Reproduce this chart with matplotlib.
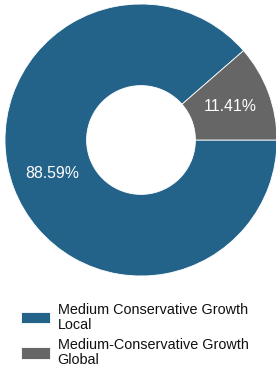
import matplotlib.pyplot as plt

# Donut chart: portfolio split
labels = ["Medium Conservative Growth\nLocal", "Medium-Conservative Growth\nGlobal"]
values = [88.59, 11.41]
colors = ["#246389", "#666666"]

plt.rcParams['font.family'] = ['Liberation Sans', 'DejaVu Sans']

W, H = 276, 372
fig = plt.figure(figsize=(W / 100, H / 100), dpi=100)

# pie centre and radius in pixels
cx, cy, r = 141, 140, 136
ax = fig.add_axes([(cx - r) / W, (H - cy - r) / H, 2 * r / W, 2 * r / H])

wedges, texts, autotexts = ax.pie(
    values, colors=colors, startangle=0, counterclock=False,
    autopct=lambda p: f"{p:.2f}%", pctdistance=0.7, radius=1,
    wedgeprops=dict(width=0.6, edgecolor="white", linewidth=0.6),
    textprops=dict(color="white", fontsize=11.4))
ax.set_xlim(-1, 1)
ax.set_ylim(-1, 1)
ax.set_aspect("equal")
ax.axis("off")

leg = fig.legend(wedges, labels, loc="upper left",
                 bbox_to_anchor=(15 / W, 1 - 297 / H), frameon=False,
                 fontsize=10.4, handlelength=2.05, handleheight=0.85,
                 handletextpad=0.5, labelspacing=0.45, borderaxespad=0)
for t in leg.get_texts():
    t.set_linespacing(1.08)
    t.set_color("#111111")

fig.savefig("out.png", dpi=100)
